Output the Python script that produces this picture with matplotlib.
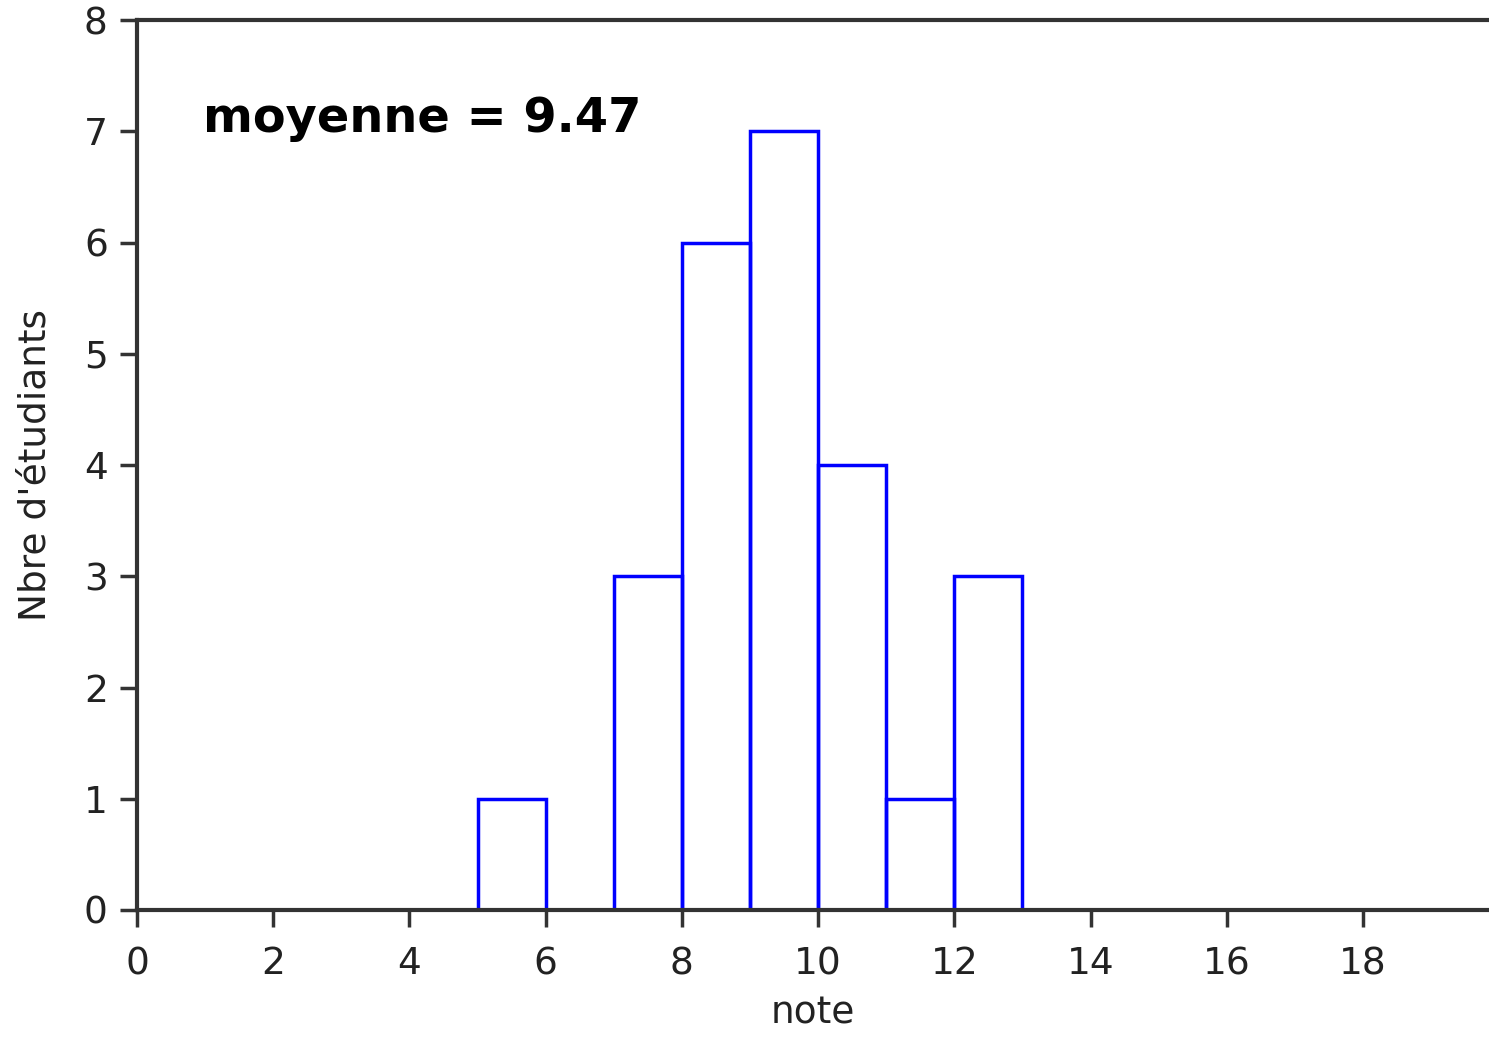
import numpy as np
import matplotlib
matplotlib.use("Agg")
from matplotlib import pyplot as plt

bords = [5, 6, 7, 8, 9, 10, 11, 12, 13]
effectifs = [1, 0, 3, 6, 7, 4, 1, 3]
moyenne = 9.47
xticks = [0, 2, 4, 6, 8, 10, 12, 14, 16, 18]
yticks = [0, 1, 2, 3, 4, 5, 6, 7, 8]

plt.rcParams['font.family'] = ['DejaVu Sans']
fig = plt.figure(figsize=(14.89, 10.37), dpi=100)
ax = fig.add_axes([0.092, 0.1225, 0.908, 0.858])

gauche = np.array(bords[:-1])
largeur = np.diff(bords)
for g, l, n in zip(gauche, largeur, effectifs):
    if n > 0:
        ax.bar(g, n, width=l, align='edge', fill=False, edgecolor='#0000ff', linewidth=2.5)

ax.set_xlim(0, 19.85)
ax.set_ylim(0, 8)
ax.set_xticks(xticks)
ax.set_yticks(yticks)
ax.tick_params(labelsize=27, length=12, width=2.5, color='#333333', labelcolor='#222222')
ax.tick_params(axis='x', pad=14)
ax.tick_params(axis='y', pad=9)
for s in ['left', 'bottom', 'top']:
    ax.spines[s].set_linewidth(3)
    ax.spines[s].set_color('#333333')
ax.spines['right'].set_visible(False)

ax.set_xlabel('note', fontsize=27, color='#222222', labelpad=10)
ax.set_ylabel("Nbre d'étudiants", fontsize=27, color='#222222', labelpad=22)
ax.text(0.97, 7.12, 'moyenne = %.2f' % moyenne, fontsize=34.5, fontweight='bold', va='center')

plt.savefig('out.png', dpi=100)
